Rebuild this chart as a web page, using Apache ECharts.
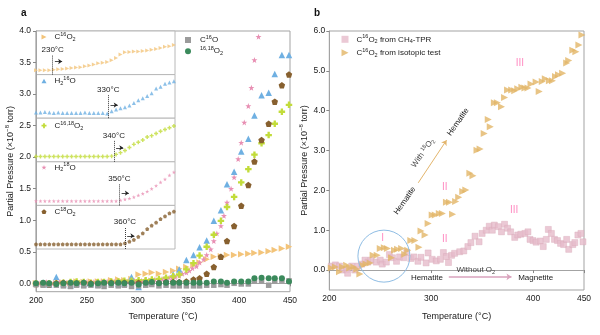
<!DOCTYPE html>
<html>
<head>
<meta charset="utf-8">
<script src="https://cdn.jsdelivr.net/npm/echarts@6/dist/echarts.min.js"></script>
<style>
  html, body { margin: 0; padding: 0; background: #fff; }
  #chart { width: 600px; height: 335px; }
</style>
</head>
<body>
<div id="chart"></div>
<script>
// ---------- panel a: main traces (°C, ×10^-8 torr) ----------
const tempsA = [200,207,213,220,227,234,240,247,254,261,267,274,281,287,294,301,308,314,321,328,335,341,348,355,361,368,375,382,388,395,402,409,415,422,429,435,442,449];
const c16o2A = [0.00,-0.01,0.00,0.00,0.01,0.00,0.03,0.02,0.03,0.03,0.03,0.05,0.06,0.05,0.07,0.14,0.15,0.17,0.15,0.18,0.20,0.23,0.26,0.29,0.33,0.38,0.42,0.43,0.45,0.45,0.46,0.47,0.48,0.49,0.51,0.53,0.55,0.58];
const h216oA = [0.00,0.01,-0.02,0.10,-0.01,-0.03,0.00,-0.01,0.00,-0.02,0.00,0.02,-0.01,0.00,0.10,-0.06,0.02,0.03,0.05,0.08,0.14,0.22,0.37,0.45,0.57,0.68,0.99,1.16,1.57,1.77,2.09,2.29,2.66,2.98,3.02,3.32,3.62,3.62];
const c1618o2A = [0.00,-0.01,0.00,0.00,0.01,0.02,0.03,0.02,0.01,0.02,0.02,0.03,0.03,0.04,0.04,0.05,0.05,0.06,0.07,0.09,0.11,0.14,0.22,0.32,0.44,0.58,0.77,0.99,1.21,1.37,1.60,1.81,2.04,2.22,2.35,2.53,2.72,2.83];
const c18o2A = [-0.01,0.00,-0.02,0.00,0.01,-0.01,0.00,0.01,0.00,-0.01,0.00,0.01,0.00,0.01,0.00,0.01,0.00,0.01,0.01,0.02,0.02,0.02,0.03,0.06,0.08,0.15,0.26,0.42,0.67,0.91,1.23,1.56,1.93,2.27,2.53,2.88,3.14,3.31];
const c16oA = [-0.02,-0.03,-0.02,-0.03,-0.04,-0.05,-0.03,-0.04,-0.03,-0.04,-0.05,-0.03,-0.04,-0.03,-0.05,-0.04,-0.03,-0.02,-0.04,-0.03,-0.04,-0.04,-0.04,-0.04,-0.04,-0.03,-0.03,-0.02,-0.03,0.00,-0.01,-0.01,0.04,0.04,-0.03,0.04,0.05,0.04];
const o1618A = [0.00,0.01,0.00,-0.01,0.00,0.01,0.00,0.01,-0.01,0.00,0.01,0.00,0.01,0.00,0.01,-0.02,0.01,0.02,0.00,0.01,0.01,0.01,0.01,0.01,0.01,0.01,0.03,0.03,0.01,0.03,0.03,0.03,0.08,0.09,0.08,0.08,0.08,0.03];

const tempsStar = [200,203,207,210,213,217,220,223,227,230,233,237,240,243,247,250,254,257,260,264,267,270,274,277,280,284,287,290,294,297,300,304,307,311,314,317,321,324,327,331,334,337,341,344,348,351,354,358,361,365,368,372,375,378,382,385,388,392,395,399,402,405,409,412,415,419];
const h218oA = [0.01,0.00,0.01,0.02,0.01,0.00,0.01,0.02,0.01,0.01,
                0.02,0.01,0.02,0.01,0.02,0.02,0.01,0.02,0.02,0.02,
                0.02,0.03,0.02,0.03,0.03,0.02,0.03,0.03,0.03,0.04,
                0.04,0.04,0.05,0.05,0.06,0.06,0.07,0.07,0.08,0.09,
                0.09,0.10,0.12,0.15,0.17,0.20,0.24,0.27,0.33,0.38,
                0.45,0.54,0.67,0.79,0.91,1.07,1.28,1.50,1.68,1.97,
                2.23,2.55,2.81,3.10,3.54,3.91];

// ---------- panel a: stacked onset traces (relative scale 0–1) ----------
const insetTemps = [200,208,216,224,232,240,248,256,264,272,280,288,296,304,312,320,328,336,344,352,360,368,376,384,392,400,408,416,424,432,440,448];
const insetC16O2 = [0.10,0.10,0.10,0.10,0.11,0.12,0.13,0.14,0.15,0.16,0.17,0.19,0.21,0.23,0.26,0.27,0.29,0.33,0.38,0.46,0.51,0.52,0.53,0.53,0.54,0.55,0.57,0.59,0.61,0.64,0.65,0.68];
const insetH216O = [0.13,0.13,0.14,0.13,0.12,0.13,0.12,0.12,0.12,0.12,0.12,0.13,0.12,0.12,0.12,0.12,0.11,0.16,0.20,0.23,0.25,0.29,0.35,0.41,0.46,0.51,0.57,0.68,0.72,0.79,0.82,0.85];
const insetC1618O2 = [0.12,0.12,0.12,0.12,0.12,0.12,0.12,0.12,0.12,0.12,0.12,0.12,0.12,0.12,0.12,0.12,0.12,0.13,0.17,0.21,0.26,0.33,0.40,0.45,0.50,0.57,0.60,0.65,0.70,0.74,0.78,0.82];
const insetH218O = [0.10,0.10,0.10,0.10,0.10,0.10,0.10,0.10,0.10,0.10,0.10,0.10,0.10,0.10,0.10,0.10,0.10,0.10,0.10,0.12,0.14,0.16,0.19,0.23,0.27,0.32,0.38,0.45,0.53,0.60,0.69,0.76];
const insetC18O2 = [0.11,0.11,0.11,0.11,0.11,0.11,0.11,0.11,0.11,0.11,0.11,0.11,0.11,0.11,0.11,0.11,0.11,0.11,0.11,0.11,0.13,0.17,0.21,0.28,0.36,0.46,0.54,0.61,0.69,0.75,0.82,0.86];
const onsetTemps = [230, 330, 340, 350, 360];

// ---------- panel b ----------
const tprTemps = [202,206,210,213,217,218,222,225,228,232,235,238,241,246,250,252,256,259,262,266,269,273,276,280,283,287,290,295,297,301,305,309,312,315,317,320,323,328,332,336,339,343,347,350,354,357,360,362,366,369,372,375,378,382,385,388,392,395,397,400,403,407,410,413,415,418,421,424,427,430,433,435,439,441,444,447,449];
const tprValues = [0.10,0.13,0.10,0.00,0.01,-0.08,0.10,0.00,0.10,0.15,0.25,0.20,0.25,0.20,0.25,0.15,0.20,0.39,0.31,0.22,0.33,0.31,0.44,0.29,0.33,0.22,0.32,0.18,0.43,0.27,0.23,0.27,0.44,0.34,0.19,0.37,0.42,0.46,0.48,0.59,0.69,0.85,0.71,0.92,1.00,1.10,1.00,1.13,1.09,0.96,1.15,1.05,0.96,0.82,0.88,0.90,0.92,0.96,0.77,0.74,0.70,0.73,0.59,0.77,1.02,0.92,0.77,0.74,0.67,0.64,0.77,0.52,0.64,0.69,0.88,0.92,0.71];
const isoTemps = [202,206,210,213,217,220,224,227,230,233,236,240,243,247,250,254,257,261,264,267,271,274,277,280,284,288,290,294,297,301,304,308,311,315,318,321,324,327,331,334,338,341,345,348,352,356,358,362,365,369,372,375,379,382,385,389,392,395,398,403,406,409,412,416,419,422,425,429,433,435,439,442,445,448];
const isoValues = [0.05,0.08,-0.04,0.08,0.12,0.05,0.08,0.02,-0.10,0.12,
                   0.15,0.18,0.37,0.37,0.54,0.56,0.54,0.31,0.50,0.52,
                   0.54,0.40,0.50,0.74,0.74,0.57,0.98,0.88,1.17,1.38,
                   1.38,1.42,1.42,1.70,1.70,1.40,1.72,1.83,1.97,2.01,
                   2.43,2.37,3.01,3.04,3.43,3.78,3.60,4.20,4.20,4.10,
                   4.33,4.52,4.52,4.50,4.55,4.59,4.57,4.57,4.67,4.72,
                   4.48,4.73,4.80,4.75,4.75,4.86,4.90,4.94,5.20,5.26,
                   5.52,5.48,5.65,5.90];

// axis ticks
const xTicksA = [200, 250, 300, 350, 400, 450];
const yTicksA = [0, 0.5, 1.0, 1.5, 2.0, 2.5, 3.0, 3.5, 4.0];
const yTicksB = [0, 1, 2, 3, 4, 5, 6];

// text notes in panel b: [temperature, pressure, text, kind]
const notesB = [
  [295.8, -0.19, 'Hematite', 'plain'],
  [402.6, -0.19, 'Magnetite', 'plain'],
  [343.8, 0.00, '{t|Without O}{tb|2}', 'plain'],
  [274.2, 1.74, 'Hematite', 'slant'],
  [326.5, 3.72, 'Hematite', 'slant'],
  [291.9, 2.94, '{t|With }{ts|18}{t|O}{tb|2}', 'slant'],
  [252.4, 0.81, 'I', 'roman'],
  [313.4, 2.09, 'II', 'roman'],
  [313.4, 0.77, 'II', 'roman'],
  [381.4, 1.51, 'III', 'roman'],
  [387.0, 5.19, 'III', 'roman']
];
const regionI = [253.6, 0.35];
const oxArrow = [[287.3, 2.19], [315.1, 3.26]];
const redArrow = [[317.3, -0.17], [378.8, -0.17]];

// ---------- styling ----------
const FONT = '"Liberation Sans", Arial, Helvetica, sans-serif';
const AXIS_COLOR = '#a3a3a3';
const TEXT = '#1a1a1a';
const TRI_RIGHT = 'path://M0,0L10,5L0,10Z';
const TRI_UP = 'path://M5,0L10,9L0,9Z';
const STAR = 'path://M5,0L6.18,3.38L9.76,3.45L6.9,5.62L7.94,9.05L5,7.0L2.06,9.05L3.1,5.62L0.24,3.45L3.82,3.38Z';
const PENTAGON = 'path://M5,0L9.76,3.45L7.94,9.05L2.06,9.05L0.24,3.45Z';
const CROSS = 'path://M3.2,0H6.8V3.2H10V6.8H6.8V10H3.2V6.8H0V3.2H3.2Z';

const COLORS = {
  c16o2: '#f3c47a', h216o: '#6fb0e2', c1618o2: '#c2dc3a', h218o: '#e88fb3',
  c18o2: '#87602f', c16o: '#9b9b9b', o1618: '#3b8a5c',
  tpr: '#e6bccb', iso: '#e2b566'
};

const richBase = {
  n: { fontSize: 8, lineHeight: 11, fontFamily: FONT, color: TEXT },
  sup: { fontSize: 5.5, lineHeight: 6, verticalAlign: 'top', fontFamily: FONT, color: TEXT },
  sub: { fontSize: 5.5, lineHeight: 6, verticalAlign: 'bottom', fontFamily: FONT, color: TEXT }
};
const LABELS = {
  'C16O2': '{n|C}{sup|16}{n|O}{sub|2}',
  'H2 16O': '{n|H}{sub|2}{sup|16}{n|O}',
  'C16,18O2': '{n|C}{sup|16,18}{n|O}{sub|2}',
  'H2 18O': '{n|H}{sub|2}{sup|18}{n|O}',
  'C18O2': '{n|C}{sup|18}{n|O}{sub|2}',
  'C16O': '{n|C}{sup|16}{n|O}',
  '16,18O2': '{sup|16,18}{n|O}{sub|2}',
  'C16O2 from CH4-TPR': '{n|C}{sup|16}{n|O}{sub|2}{n| from CH}{sub|4}{n|-TPR}',
  'C16O2 from isotopic test': '{n|C}{sup|16}{n|O}{sub|2}{n| from isotopic test}'
};

const zip = (xs, ys) => xs.map((x, i) => [x, ys[i]]);

// ---------- layout ----------
const gridA = { left: 36, top: 31, width: 254, height: 260.7 };
const insetH = 43.6;
const insetW = 139;
const insetLabelY = [37, 81, 125.7, 167.3, 211.7];
const gridB = { left: 329.3, top: 31, width: 254.7, height: 259 };

const grids = [
  Object.assign({ show: true, borderColor: AXIS_COLOR, borderWidth: 1 }, gridA)
];
for (let i = 0; i < 5; i++) {
  grids.push({ left: 36, top: 31 + insetH * i, width: insetW, height: insetH,
               show: true, borderColor: '#b8b8b8', borderWidth: 1, backgroundColor: '#fff' });
}
grids.push(Object.assign({ show: true, borderColor: AXIS_COLOR, borderWidth: 1 }, gridB));

const tickLabel = { fontSize: 8.5, color: TEXT, fontFamily: FONT };
const nameStyle = { fontSize: 9, color: TEXT, fontFamily: FONT,
  rich: { s: { fontSize: 6, verticalAlign: 'top', lineHeight: 8, fontFamily: FONT, color: TEXT },
          b: { fontSize: 9, lineHeight: 12, fontFamily: FONT, color: TEXT } } };
const yName = '{b|Partial Pressure (×10}{s|−8}{b| torr)}';

const xAxes = [
  { gridIndex: 0, type: 'value', min: 200, max: 450,
    axisLine: { lineStyle: { color: AXIS_COLOR } },
    axisTick: { length: 3, lineStyle: { color: '#888' }, customValues: xTicksA },
    axisLabel: Object.assign({ margin: 4, customValues: xTicksA }, tickLabel),
    splitLine: { show: false },
    name: 'Temperature (°C)', nameLocation: 'middle', nameGap: 20, nameTextStyle: nameStyle }
];
const yAxes = [
  { gridIndex: 0, type: 'value', min: -0.133, max: 4.0,
    axisLine: { show: true, lineStyle: { color: AXIS_COLOR } },
    axisTick: { show: true, length: 3, lineStyle: { color: '#888' }, customValues: yTicksA },
    axisLabel: Object.assign({ margin: 5, customValues: yTicksA, formatter: v => v.toFixed(1) }, tickLabel),
    splitLine: { show: false },
    name: yName, nameLocation: 'middle', nameGap: 19, nameTextStyle: nameStyle }
];
for (let i = 1; i <= 5; i++) {
  xAxes.push({ gridIndex: i, type: 'value', min: 200, max: 450, show: false });
  yAxes.push({ gridIndex: i, type: 'value', min: 0, max: 1, show: false });
}
xAxes.push({ gridIndex: 6, type: 'value', min: 200, max: 450, interval: 100,
  axisLine: { lineStyle: { color: AXIS_COLOR } },
  axisTick: { length: 3, lineStyle: { color: '#888' } },
  axisLabel: Object.assign({ margin: 4 }, tickLabel),
  splitLine: { show: false },
  name: 'Temperature (°C)', nameLocation: 'middle', nameGap: 22, nameTextStyle: nameStyle });
yAxes.push({ gridIndex: 6, type: 'value', min: -0.5, max: 6.0,
  axisLine: { show: true, lineStyle: { color: AXIS_COLOR } },
  axisTick: { show: true, length: 3, lineStyle: { color: '#888' }, customValues: yTicksB },
  axisLabel: Object.assign({ margin: 4, customValues: yTicksB, formatter: v => v.toFixed(1) }, tickLabel),
  splitLine: { show: false },
  name: yName, nameLocation: 'middle', nameGap: 19, nameTextStyle: nameStyle });

// ---------- series ----------
function mainScatter(name, xs, ys, color, symbol, size) {
  return { name, type: 'scatter', xAxisIndex: 0, yAxisIndex: 0, data: zip(xs, ys),
    symbol, symbolSize: size, itemStyle: { color, opacity: 1 }, z: 3 };
}

const series = [
  mainScatter('C16O2', tempsA, c16o2A, COLORS.c16o2, TRI_RIGHT, 6.5),
  mainScatter('H2 16O', tempsA, h216oA, COLORS.h216o, TRI_UP, 6.5),
  mainScatter('H2 18O', tempsStar, h218oA, COLORS.h218o, STAR, 6),
  mainScatter('C16,18O2', tempsA, c1618o2A, COLORS.c1618o2, CROSS, 6.5),
  mainScatter('C18O2', tempsA, c18o2A, COLORS.c18o2, PENTAGON, 6.5),
  mainScatter('C16O', tempsA, c16oA, COLORS.c16o, 'rect', 5.5),
  mainScatter('16,18O2', tempsA, o1618A, COLORS.o1618, 'circle', 6)
];

const insetDefs = [
  { name: 'C16O2', ys: insetC16O2, color: COLORS.c16o2, symbol: TRI_RIGHT, top: 0.45, arrowY: 0.30 },
  { name: 'H2 16O', ys: insetH216O, color: COLORS.h216o, symbol: TRI_UP, top: 0.53, arrowY: 0.30 },
  { name: 'C16,18O2', ys: insetC1618O2, color: COLORS.c1618o2, symbol: CROSS, top: 0.48, arrowY: 0.32 },
  { name: 'H2 18O', ys: insetH218O, color: COLORS.h218o, symbol: STAR, top: 0.49, arrowY: 0.28 },
  { name: 'C18O2', ys: insetC18O2, color: COLORS.c18o2, symbol: PENTAGON, top: 0.50, arrowY: 0.30 }
];

const legends = [];
insetDefs.forEach((d, i) => {
  const t = onsetTemps[i];
  const dotted = { type: 'dotted', color: '#3a3a3a', width: 1 };
  const arrowLine = { type: 'solid', color: '#222', width: 0.8 };
  const onsetLabel = { show: true, position: 'end', distance: 1, formatter: t + '°C',
                       fontSize: 8, color: TEXT, fontFamily: FONT };
  series.push({
    name: d.name, type: 'scatter', xAxisIndex: i + 1, yAxisIndex: i + 1,
    data: zip(insetTemps, d.ys), symbol: d.symbol, symbolSize: 4,
    itemStyle: { color: d.color }, z: 4,
    markLine: {
      silent: true, animation: false, symbolSize: 4,
      data: [
        [ { coord: [t, 0], symbol: 'none', lineStyle: dotted, label: onsetLabel },
          { coord: [t, d.top], symbol: 'none', lineStyle: dotted, label: onsetLabel } ],
        [ { coord: [t + 4, d.arrowY], symbol: 'none', lineStyle: arrowLine, label: { show: false } },
          { coord: [t + 17, d.arrowY], symbol: 'arrow', lineStyle: arrowLine, label: { show: false } } ]
      ]
    }
  });
  legends.push({
    data: [{ name: d.name, icon: d.symbol }], left: 41.5, top: insetLabelY[i] - 5.5,
    orient: 'vertical', padding: 0,
    itemWidth: 5, itemHeight: 5, itemGap: 0,
    formatter: n => LABELS[n],
    textStyle: { rich: richBase, padding: [0, 0, 0, 3] }
  });
});

legends.push({
  data: ['C16O', '16,18O2'], left: 185, top: 34.5, orient: 'vertical', padding: 0,
  itemWidth: 6, itemHeight: 6, itemGap: 1.7,
  formatter: n => LABELS[n],
  textStyle: { rich: richBase, padding: [0, 0, 0, 4] }
});
legends.push({
  data: [
    { name: 'C16O2 from CH4-TPR', icon: 'rect', itemStyle: { color: COLORS.tpr, borderWidth: 0 } },
    { name: 'C16O2 from isotopic test', icon: TRI_RIGHT }
  ],
  left: 341.5, top: 33.8, orient: 'vertical', padding: 0,
  itemWidth: 7, itemHeight: 7, itemGap: 2.4,
  formatter: n => LABELS[n],
  textStyle: { rich: richBase, padding: [0, 0, 0, 3] }
});

// panel b annotations
const noteRich = {
  t: { fontSize: 8, fontFamily: FONT, color: '#444', lineHeight: 11 },
  ts: { fontSize: 5.5, fontFamily: FONT, color: '#444', verticalAlign: 'top', lineHeight: 6 },
  tb: { fontSize: 5.5, fontFamily: FONT, color: '#444', verticalAlign: 'bottom', lineHeight: 6 }
};
const notePoints = notesB.map(([x, y, text, kind]) => {
  const label = { show: true, position: 'inside', formatter: text, fontFamily: FONT, rich: noteRich };
  if (kind === 'roman') Object.assign(label, { fontSize: 10, color: '#ff8cc2' });
  else Object.assign(label, { fontSize: 8, color: TEXT });
  if (kind === 'slant') label.rotate = 55;
  return { coord: [x, y], symbol: 'circle', symbolSize: 0, label };
});
notePoints.push({
  coord: regionI, symbol: 'circle', symbolSize: 52,
  itemStyle: { color: 'rgba(0,0,0,0)', borderColor: '#8fbde4', borderWidth: 1 },
  label: { show: false }
});

const oxStyle = { color: '#e3b56c', width: 1, type: 'solid' };
const redStyle = { color: '#d9a2bc', width: 1.5, type: 'solid' };

series.push({
  name: 'C16O2 from CH4-TPR', type: 'scatter', xAxisIndex: 6, yAxisIndex: 6,
  data: zip(tprTemps, tprValues), symbol: 'rect', symbolSize: 6,
  itemStyle: { color: COLORS.tpr, borderColor: '#d9a9ba', borderWidth: 0.5 }, z: 3
});
series.push({
  name: 'C16O2 from isotopic test', type: 'scatter', xAxisIndex: 6, yAxisIndex: 6,
  data: zip(isoTemps, isoValues), symbol: TRI_RIGHT, symbolSize: 7,
  itemStyle: { color: COLORS.iso }, z: 4,
  markPoint: { silent: true, animation: false, data: notePoints },
  markLine: {
    silent: true, animation: false, symbolSize: 5,
    data: [
      [ { coord: oxArrow[0], symbol: 'none', lineStyle: oxStyle, label: { show: false } },
        { coord: oxArrow[1], symbol: 'arrow', lineStyle: oxStyle, label: { show: false } } ],
      [ { coord: redArrow[0], symbol: 'none', lineStyle: redStyle, label: { show: false } },
        { coord: redArrow[1], symbol: 'arrow', lineStyle: redStyle, label: { show: false } } ]
    ]
  }
});

const chart = echarts.init(document.getElementById('chart'), null, { renderer: 'canvas' });
chart.setOption({
  animation: false,
  backgroundColor: '#fff',
  textStyle: { fontFamily: FONT },
  title: [
    { text: 'a', left: 16, top: 3, textStyle: { fontSize: 10, fontWeight: 'bold', color: '#111', fontFamily: FONT } },
    { text: 'b', left: 309, top: 3, textStyle: { fontSize: 10, fontWeight: 'bold', color: '#111', fontFamily: FONT } }
  ],
  grid: grids,
  xAxis: xAxes,
  yAxis: yAxes,
  legend: legends,
  series
});
</script>
</body>
</html>
